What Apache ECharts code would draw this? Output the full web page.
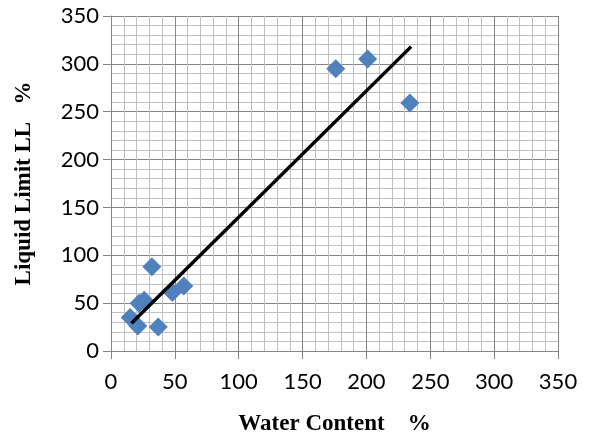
<!DOCTYPE html>
<html>
<head>
<meta charset="utf-8">
<script src="https://cdn.jsdelivr.net/npm/echarts@6/dist/echarts.min.js"></script>
<style>
    html, body { margin: 0; padding: 0; background: #fff; }
    #chart { width: 589px; height: 441px; }
</style>
</head>
<body>
<div id="chart"></div>
<script>
// measured points (water content %, liquid limit %)
var waterContent = [176, 201, 234, 32, 22, 26, 15, 21, 37, 48, 57];
var liquidLimit = [295, 305, 259, 88, 50, 53, 35, 26, 25, 61, 68];
// linear trendline end points as drawn
var trendX = [16, 235];
var trendY = [29, 318];
var xTicks = [0, 50, 100, 150, 200, 250, 300, 350];
var yTicks = [0, 50, 100, 150, 200, 250, 300, 350];

var points = [];
for (var i = 0; i < waterContent.length; i++) {
    points.push([waterContent[i], liquidLimit[i]]);
}
var trend = [];
for (var j = 0; j < trendX.length; j++) {
    trend.push([trendX[j], trendY[j]]);
}

var majorColor = '#868686';
var minorColor = '#c0c0c0';

function valueAxis(ticks, name, opts) {
    var ax = {
        type: 'value',
        min: ticks[0],
        max: ticks[ticks.length - 1],
        interval: ticks[1] - ticks[0],
        name: name,
        nameLocation: 'middle',
        nameTextStyle: {
            fontFamily: 'Liberation Serif',
            fontWeight: 'bold',
            fontSize: 23,
            color: '#000'
        },
        axisLine: { show: true, lineStyle: { color: majorColor, width: 1 } },
        axisTick: { show: true, length: 8, lineStyle: { color: majorColor } },
        minorTick: { show: true, splitNumber: 5, length: 0, lineStyle: { opacity: 0 } },
        splitLine: { show: true, lineStyle: { color: majorColor, width: 1 } },
        minorSplitLine: { show: true, lineStyle: { color: minorColor, width: 1 } },
        axisLabel: {
            fontFamily: 'Lato',
            fontSize: 22,
            color: '#000'
        }
    };
    for (var k in opts) ax[k] = opts[k];
    return ax;
}

var xAxis = valueAxis(xTicks, 'Water Content    %', { nameGap: 62 });
xAxis.axisLabel.margin = 20;
var yAxis = valueAxis(yTicks, 'Liquid Limit LL   %', { nameGap: 75 });
yAxis.axisLabel.margin = 12;

var chart = echarts.init(document.getElementById('chart'));
chart.setOption({
    animation: false,
    grid: { left: 111, right: 31, top: 16, bottom: 87, containLabel: false },
    xAxis: xAxis,
    yAxis: yAxis,
    series: [
        {
            name: 'LL',
            type: 'scatter',
            symbol: 'diamond',
            symbolSize: 19,
            itemStyle: { color: '#4F81BD', opacity: 1 },
            data: points,
            z: 2
        },
        {
            name: 'trend',
            type: 'line',
            symbol: 'none',
            data: trend,
            lineStyle: { color: '#000', width: 3.5 },
            z: 3
        }
    ]
});
</script>
</body>
</html>
